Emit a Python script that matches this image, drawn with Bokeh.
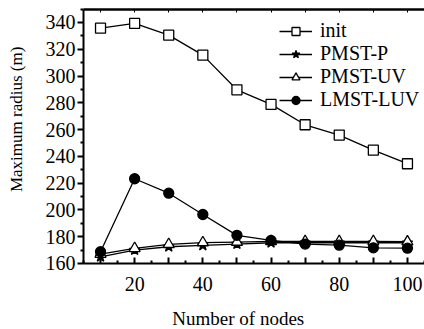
import math
from bokeh.plotting import figure
from bokeh.models import FixedTicker, LinearAxis, Range1d, Legend, Label
from bokeh.embed import file_html
from bokeh.resources import INLINE

# Number of nodes in the network
nodes = [10, 20, 30, 40, 50, 60, 70, 80, 90, 100]

# Maximum transmission radius (m) for each topology scheme
init = [335.7, 339.3, 330.5, 315.6, 289.7, 278.8, 263.6, 255.9, 244.6, 234.5]
pmst_p = [165.0, 170.0, 172.5, 173.5, 174.5, 175.5, 175.5, 175.5, 175.5, 175.5]
pmst_uv = [167.0, 171.3, 174.3, 175.6, 176.0, 176.5, 176.5, 176.5, 176.5, 176.3]
lmst_luv = [168.8, 223.3, 212.5, 196.6, 181.0, 177.2, 174.5, 173.7, 171.7, 171.4]

x_major = [10, 20, 30, 40, 50, 60, 70, 80, 90, 100]
x_minor = [5, 15, 25, 35, 45, 55, 65, 75, 85, 95, 105]
x_labels = {10: "", 20: "20", 30: "", 40: "40", 50: "", 60: "60",
            70: "", 80: "80", 90: "", 100: "100"}
y_major = [160, 180, 200, 220, 240, 260, 280, 300, 320, 340]
y_minor = [170, 190, 210, 230, 250, 270, 290, 310, 330, 350]

# Axis box in data units
X_START, X_END = 5, 105
Y_START, Y_END = 160, 350

X_TITLE = "Number of nodes"
Y_TITLE = "Maximum radius (m)"

FONT = "Liberation Serif"

# The frame fills the whole canvas; the visible axis box is drawn with
# bounded axes pinned inside it, leaving room for labels around the box.
p = figure(width=424, height=329, output_backend="svg", toolbar_location=None,
           x_range=Range1d(-19.33, 105.0), y_range=Range1d(110.7, 356.4),
           title_location=None,
           min_border_left=0, min_border_right=0, min_border_top=0,
           min_border_bottom=0, background_fill_color="white",
           border_fill_color="white")
p.outline_line_color = None
p.xgrid.visible = False
p.ygrid.visible = False

# Bottom axis: ticks pointing into the box
xa = p.xaxis[0]
xa.fixed_location = Y_START
xa.bounds = (X_START, X_END)
xa.ticker = FixedTicker(ticks=x_major, minor_ticks=x_minor)
xa.major_label_overrides = x_labels
xa.axis_line_width = 2
xa.major_tick_in = 6
xa.major_tick_out = 0
xa.minor_tick_in = 3
xa.minor_tick_out = 0
xa.major_tick_line_width = 2
xa.minor_tick_line_width = 2
xa.major_label_standoff = 14

# Left axis: ticks pointing outward
ya = p.yaxis[0]
ya.fixed_location = X_START
ya.bounds = (Y_START, Y_END)
ya.ticker = FixedTicker(ticks=y_major, minor_ticks=y_minor)
ya.axis_line_width = 2
ya.major_tick_in = 0
ya.major_tick_out = 6
ya.minor_tick_in = 0
ya.minor_tick_out = 3
ya.major_tick_line_width = 2
ya.minor_tick_line_width = 2
ya.major_label_standoff = 2

for ax in (xa, ya):
    ax.major_label_text_font = FONT
    ax.major_label_text_font_size = "20px"
    ax.major_label_text_color = "black"

# Top edge of the box with small inward ticks
top = LinearAxis(ticker=FixedTicker(ticks=x_major, minor_ticks=x_minor),
                 fixed_location=Y_END, bounds=(X_START, X_END),
                 axis_line_width=2.5, major_tick_in=3, major_tick_out=0,
                 minor_tick_in=0, minor_tick_out=0,
                 major_label_overrides={t: "" for t in x_major})
p.add_layout(top, "above")

# Axis titles
p.add_layout(Label(x=50.4, y=118.9, text=X_TITLE, text_align="center",
                   text_baseline="middle", text_font=FONT,
                   text_font_size="19px", text_color="black"))
p.add_layout(Label(x=-14.6, y=267.6, text=Y_TITLE, angle=math.pi / 2,
                   text_align="center", text_baseline="middle",
                   text_font=FONT, text_font_size="17px",
                   text_color="black"))

series = [
    ("init", init, "square", "white", 10),
    ("PMST-P", pmst_p, "star", "black", 11),
    ("PMST-UV", pmst_uv, "triangle", "white", 11),
    ("LMST-LUV", lmst_luv, "circle", "black", 10),
]

items = []
for name, vals, marker, fill, size in series:
    ln = p.line(nodes, vals, line_color="black", line_width=1.3)
    sc = p.scatter(nodes, vals, marker=marker, size=size, fill_color=fill,
                   line_color="black", line_width=1.3)
    items.append((name, [ln, sc]))

legend = Legend(items=items, location=(279, 218), border_line_color=None,
                background_fill_alpha=0, padding=0, margin=0, spacing=-3,
                glyph_width=33, glyph_height=20, label_height=20,
                label_standoff=8, label_text_font=FONT,
                label_text_font_size="20px", label_text_color="black")
p.add_layout(legend)

open("out.html", "w").write(file_html(p, INLINE))
